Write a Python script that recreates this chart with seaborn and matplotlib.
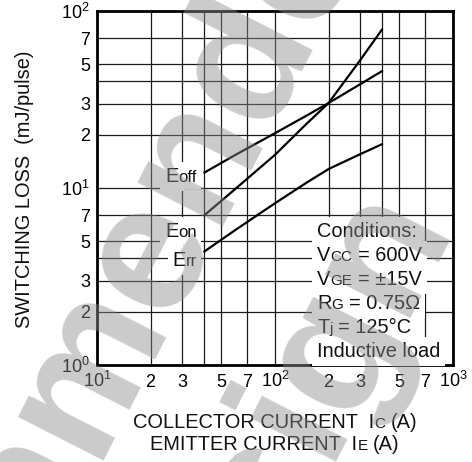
import matplotlib
matplotlib.use('Agg')
import matplotlib.pyplot as plt
import matplotlib.ticker as mticker
import matplotlib.transforms as mtransforms
import seaborn as sns
import pandas as pd
from math import floor, log10

# values (log-log)
collector_current = [40, 60, 100, 150, 200, 300, 400]
e_off = [12.2, 15.4, 20.4, 25.6, 30.2, 38.5, 45.8]
e_on = [7.0, 9.9, 15.4, 23.0, 30.2, 52.5, 78.8]
e_rr = [4.37, 5.8, 8.2, 10.7, 12.8, 15.5, 17.7]

BIG = 14.4
SMALL = 11
TICK = 13

curve_labels = {
    'off': [('E', BIG), ('off', 12)],
    'on': [('E', BIG), ('on', 12)],
    'rr': [('E', BIG), ('rr', 12)],
}
curve_label_y = {'off': 10.85, 'on': 5.31, 'rr': 3.64}

conditions = [
    [('Conditions:', BIG)],
    [('V', BIG), ('CC', SMALL), (' = 600V', BIG)],
    [('V', BIG), ('GE', SMALL), (' = \u00b115V', BIG)],
    [('R', BIG), ('G', SMALL), (' = 0.75\u03a9', BIG)],
    [('T', BIG), ('j', SMALL), (' = 125\u00b0C', BIG)],
    [('Inductive load', BIG)],
]

sns.set_style('white')
plt.rcParams['font.family'] = ['Liberation Sans', 'DejaVu Sans']
plt.rcParams['mathtext.fontset'] = 'custom'
plt.rcParams['mathtext.rm'] = 'Liberation Sans'

df = pd.DataFrame({
    'current': collector_current * 3,
    'loss': e_off + e_on + e_rr,
    'curve': ['off'] * 7 + ['on'] * 7 + ['rr'] * 7,
})

fig, ax = plt.subplots(figsize=(4.72, 4.62), dpi=100)
fig.subplots_adjust(left=97 / 472, right=453 / 472, bottom=1 - 365 / 462, top=1 - 11 / 462)

sns.lineplot(data=df, x='current', y='loss', units='curve', estimator=None,
             color='black', linewidth=1.6, ax=ax, legend=False)
ax.set(xscale='log', yscale='log', xlim=(10, 1000), ylim=(1, 100), xlabel='', ylabel='')


def mantissa(v, pos):
    m = int(round(v / 10 ** floor(log10(v))))
    return '' if m == 4 else str(m)


for axis in (ax.xaxis, ax.yaxis):
    axis.set_major_locator(mticker.LogLocator(base=10, numticks=10))
    axis.set_minor_locator(mticker.LogLocator(base=10, subs=[2, 3, 4, 5, 7], numticks=10))
    axis.set_minor_formatter(mticker.FuncFormatter(mantissa))

ax.tick_params(which='both', length=0, labelsize=TICK, colors='black')
ax.tick_params(axis='x', which='both', pad=15.6)
ax.tick_params(axis='y', which='both', pad=5)
ax.grid(True, which='both', color='#1a1a1a', linewidth=0.9)
ax.set_axisbelow(True)
for sp in ax.spines.values():
    sp.set_linewidth(2.0)
    sp.set_color('black')

fig.canvas.draw()
renderer = fig.canvas.get_renderer()
for t in ax.xaxis.get_major_ticks() + ax.xaxis.get_minor_ticks():
    t.label1.set_va('baseline')


def advance(s, size):
    a = ax.text(0, 0, '|' + s + '|', fontsize=size)
    b = ax.text(0, 0, '||', fontsize=size)
    w = a.get_window_extent(renderer).width - b.get_window_extent(renderer).width
    a.remove()
    b.remove()
    return w


def rich_text(x, y, parts, transform, ha='left', bbox=None):
    total = sum(advance(s, size) for s, size in parts)
    offset = {'left': 0, 'center': -total / 2, 'right': -total}[ha]
    for s, size in parts:
        lead = len(s) - len(s.lstrip())
        if s.strip():
            shift = offset + (advance(' ' * lead, size) if lead else 0)
            trans = transform + mtransforms.Affine2D().translate(shift, 0)
            if bbox is not None:
                # white backdrop under all pieces, so no box hides a neighbour
                ax.text(x, y, s.strip(), fontsize=size, va='baseline', ha='left',
                        zorder=3.5, transform=trans, bbox=bbox, color='none')
            ax.text(x, y, s.strip(), fontsize=size, va='baseline', ha='left', zorder=4,
                    transform=trans, color='#111111')
        offset += advance(s, size)


box = dict(boxstyle='square,pad=0.25', fc='white', ec='none')
for key, parts in curve_labels.items():
    rich_text(36.5, curve_label_y[key], parts, ax.transData, ha='right', bbox=box)

for i, parts in enumerate(conditions):
    rich_text(0.618, (365 - 237) / 354 - i * 24 / 354, parts, ax.transAxes, ha='left', bbox=box)

fig.text(25 / 472, 1 - 189 / 462, 'SWITCHING LOSS  (mJ/pulse)', rotation=90,
         ha='center', va='center', fontsize=BIG, color='#111111')
rich_text(275 / 472, 1 - 428 / 462, [('COLLECTOR CURRENT  I', BIG), ('C', SMALL), (' (A)', BIG)],
          fig.transFigure, ha='center')
rich_text(275 / 472, 1 - 450 / 462, [('EMITTER CURRENT  I', BIG), ('E', SMALL), (' (A)', BIG)],
          fig.transFigure, ha='center')

# diagonal watermark
mark = dict(rotation=63, rotation_mode='anchor', ha='left', va='baseline', fontsize=131,
            fontweight='bold', color='#8c8c8c', alpha=0.45, zorder=10)
fig.text(-183 / 472, 1 - 1000 / 462, 'Recommended', **mark)
fig.text(186 / 472, 1 - 745 / 462, 'design', **mark)

fig.savefig('out.png', dpi=100)
